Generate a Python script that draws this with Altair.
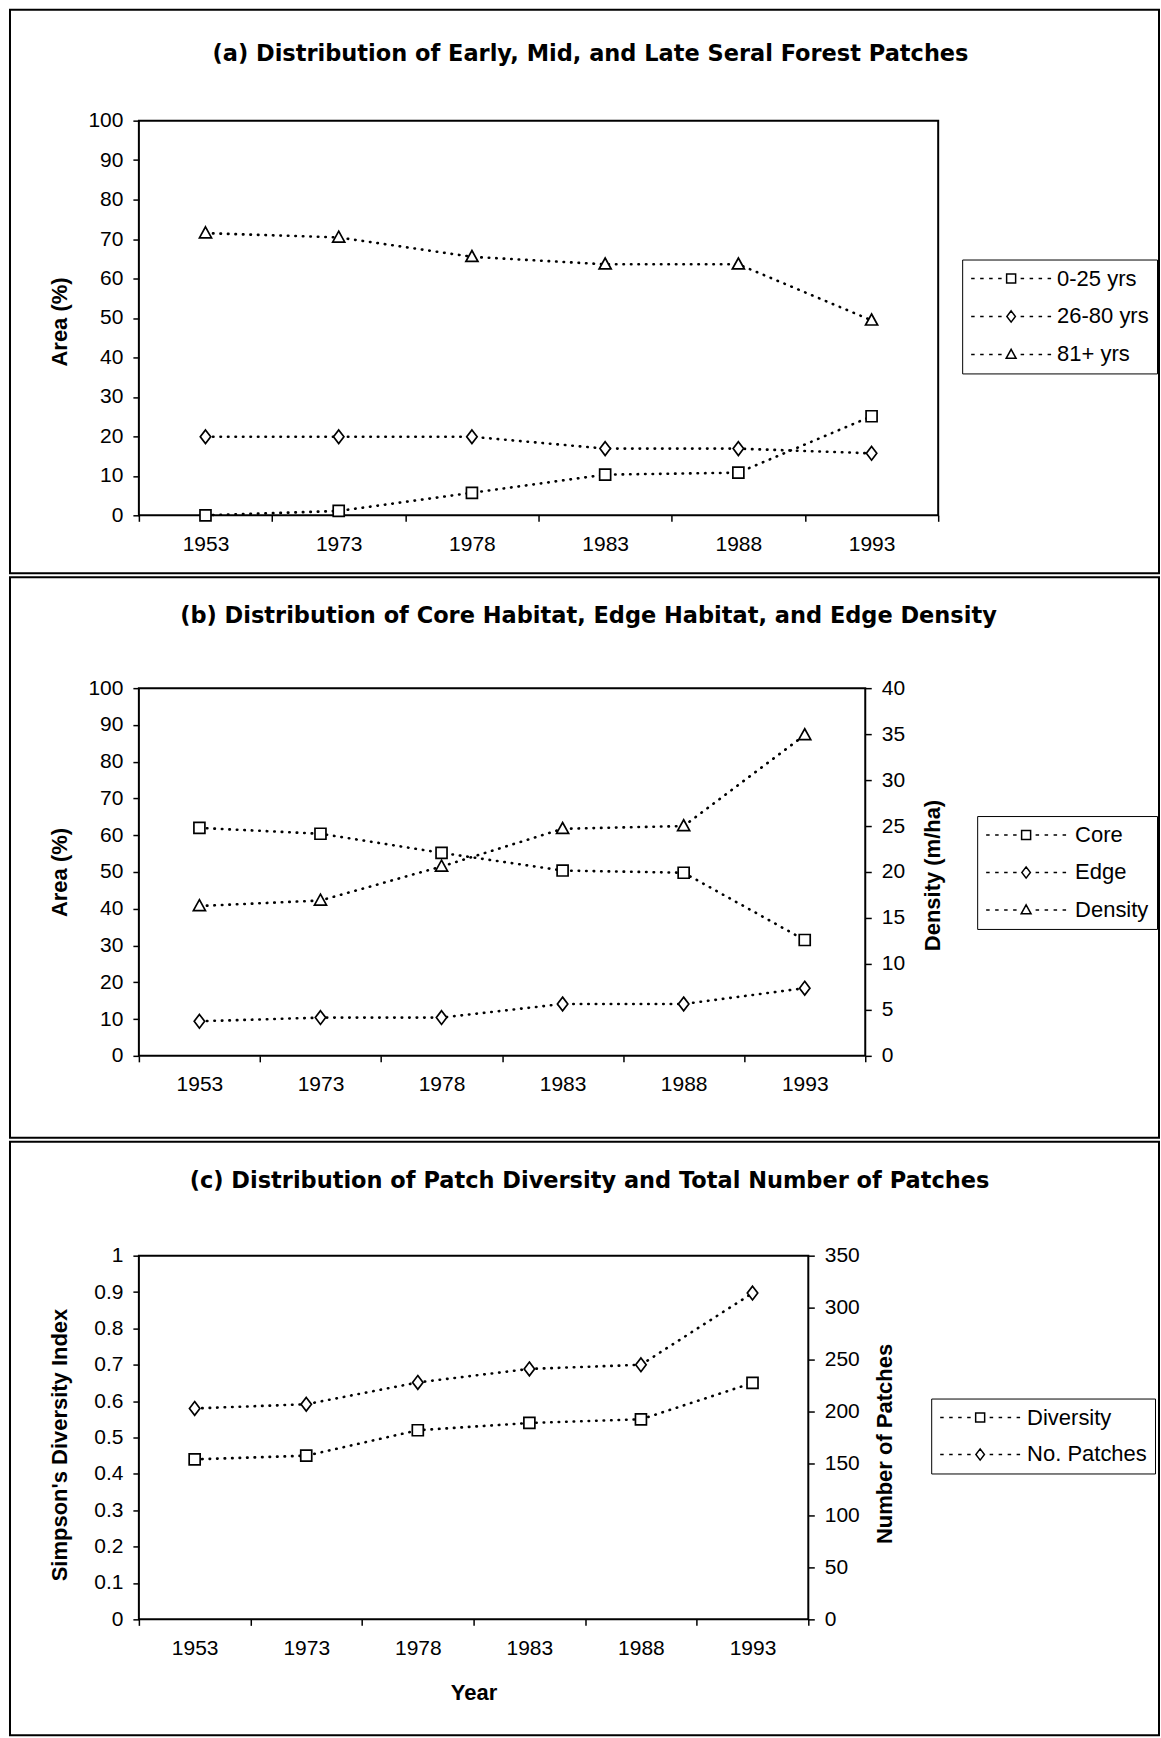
import altair as alt
import pandas as pd

# ---------------- data ----------------
years = ["1953", "1973", "1978", "1983", "1988", "1993"]

a_labels = ["0-25 yrs", "26-80 yrs", "81+  yrs"]
a_early = [0.0, 1.1, 5.7, 10.3, 10.8, 25.1]
a_mid = [19.9, 19.9, 19.9, 16.9, 16.9, 15.7]
a_late = [71.5, 70.4, 65.5, 63.6, 63.6, 49.4]

b_labels = ["Core", "Edge", "Density"]
b_core = [62.0, 60.4, 55.2, 50.4, 49.8, 31.5]
b_edge = [9.4, 10.4, 10.4, 14.1, 14.1, 18.4]
b_density = [16.3, 16.9, 20.6, 24.7, 25.0, 34.9]

c_labels = ["Diversity", "No. Patches"]
c_diversity = [0.44, 0.45, 0.52, 0.54, 0.55, 0.65]
c_patches = [203, 207, 228, 241, 245, 314]

title_a = "(a) Distribution of Early, Mid, and Late Seral Forest Patches"
title_b = "(b) Distribution of Core Habitat, Edge Habitat, and Edge Density"
title_c = "(c) Distribution of Patch Diversity and Total Number of Patches"

# ---------------- styles ----------------
FONT = "Liberation Sans"
TITLE_FONT = "DejaVu Sans"
SQ = "M-1,-1L1,-1L1,1L-1,1Z"
DI = "M0,-1.25L0.95,0L0,1.25L-0.95,0Z"
TR = "M0,-1.15L1.1,0.85L-1.1,0.85Z"


def legend_path(marker, r=4.5):
    segs = [(s, s + 3.5) for s in (-40, -31, -22, -13)] + \
           [(s, s + 3.5) for s in (9.5, 18.5, 27.5, 36.5)]
    p = "".join(f"M{a / r:.3f},0L{b / r:.3f},0" for a, b in segs)
    return p + marker


def long_df(labels, series):
    rows = []
    for lab, vals in zip(labels, series):
        for yr, v in zip(years, vals):
            rows.append({"year": yr, "series": lab, "value": v})
    return pd.DataFrame(rows)


def x_enc(title=None):
    ax = dict(tickBand="extent", labelAngle=0, labelPadding=12, tickSize=6)
    if title:
        ax.update(titleY=73, titleBaseline="middle")
    return alt.X("year:N", sort=years, title=title,
                 scale=alt.Scale(type="band", paddingInner=0, paddingOuter=0),
                 axis=alt.Axis(**ax))


def y_enc(domain, values, title, orient, tx, ty, fmt=None):
    ax = dict(values=values, orient=orient, labelPadding=10, tickSize=6,
              titleX=tx, titleY=ty, titleBaseline="middle", titleAngle=270)
    if fmt:
        ax["format"] = fmt
    return alt.Y("value:Q", title=title,
                 scale=alt.Scale(domain=domain, nice=False, zero=True),
                 axis=alt.Axis(**ax))


def series_layers(df, y, labels, shapes, xtitle=None):
    base = alt.Chart(df)
    x = x_enc(xtitle)
    lines = base.mark_line(color="black", strokeWidth=2.6, strokeDash=[0.5, 7],
                           strokeCap="round").encode(x=x, y=y, detail="series:N")
    pts = base.mark_point(filled=True, fill="white", stroke="black", strokeWidth=1.7,
                          size=121, opacity=1).encode(
        x=x, y=y,
        shape=alt.Shape("series:N", scale=alt.Scale(domain=labels, range=shapes), legend=None))
    return alt.layer(lines, pts)


def legend_layer(labels, markers, lx, ly, label_offset, row_pad):
    paths = [legend_path(m) for m in markers]
    return alt.Chart(pd.DataFrame({"series": labels})).transform_filter("false").mark_point(
        filled=False, color="black", strokeWidth=1.5, size=81, opacity=1).encode(
        shape=alt.Shape("series:N", scale=alt.Scale(domain=labels, range=paths),
                        legend=alt.Legend(title=None, orient="none", legendX=lx, legendY=ly,
                                          labelOffset=label_offset, symbolOffset=30,
                                          rowPadding=row_pad, padding=8,
                                          strokeColor="black", fillColor="white",
                                          symbolStrokeColor="black", symbolStrokeWidth=1.5,
                                          symbolSize=81, labelFont=FONT, labelFontSize=22,
                                          labelColor="black")))


def frame_layer(x0, x1, y0, y1):
    return alt.Chart(pd.DataFrame({"d": [0]})).mark_rect(
        filled=False, stroke="black", strokeWidth=2, fillOpacity=0).encode(
        x=alt.value(x0), x2=alt.value(x1), y=alt.value(y0), y2=alt.value(y1))


def title_layer(text, tx, ty):
    return alt.Chart(pd.DataFrame({"d": [0]})).mark_text(
        text=text, font=TITLE_FONT, fontSize=22.5, fontWeight="bold", color="black",
        align="center", baseline="middle").encode(x=alt.value(tx), y=alt.value(ty))


# ---------------- panel (a) ----------------
df_a = long_df(a_labels, [a_early, a_mid, a_late])
ya = y_enc([0, 100], list(range(0, 101, 10)), "Area (%)", "left", -79, 201)
panel_a = alt.layer(
    frame_layer(-129, 1021, -111, 453),
    series_layers(df_a, ya, a_labels, [SQ, DI, TR]),
    legend_layer(a_labels, [SQ, DI, TR], 824, 139, 35, 16),
    title_layer(title_a, 452, -67),
).resolve_scale(shape="independent").properties(width=800, height=395)

# ---------------- panel (b) ----------------
df_bl = long_df(b_labels[:2], [b_core, b_edge])
df_br = long_df(b_labels[2:], [b_density])
yb_l = y_enc([0, 100], list(range(0, 101, 10)), "Area (%)", "left", -79, 184)
yb_r = y_enc([0, 40], list(range(0, 41, 5)), "Density (m/ha)", "right", 67, 187)
panel_b = alt.layer(
    frame_layer(-129, 1021, -111, 450),
    series_layers(df_bl, yb_l, b_labels[:2], [SQ, DI]),
    series_layers(df_br, yb_r, b_labels[2:], [TR]),
    legend_layer(b_labels, [SQ, DI, TR], 839, 128, 38, 15.5),
    title_layer(title_b, 450, -72),
).resolve_scale(y="independent", shape="independent").properties(width=727, height=368)

# ---------------- panel (c) ----------------
df_cl = long_df(c_labels[:1], [c_diversity])
df_cr = long_df(c_labels[1:], [c_patches])
yc_l = y_enc([0, 1], [i / 10 for i in range(11)], "Simpson's Diversity Index", "left", -79, 189, ".1~f")
yc_r = y_enc([0, 350], list(range(0, 351, 50)), "Number of Patches", "right", 76, 188)
panel_c = alt.layer(
    frame_layer(-129, 1021, -114, 480),
    series_layers(df_cl, yc_l, c_labels[:1], [SQ], "Year"),
    series_layers(df_cr, yc_r, c_labels[1:], [DI], "Year"),
    legend_layer(c_labels, [SQ, DI], 793, 143, 36, 15),
    title_layer(title_c, 451, -75),
).resolve_scale(y="independent", shape="independent").properties(width=670, height=364)

chart = alt.vconcat(panel_a, panel_b, panel_c, spacing=0).properties(
    padding={"left": 8, "top": 7, "right": 0, "bottom": 0},
    background="white",
).configure_view(stroke="black", strokeWidth=2).configure_axis(
    labelFont=FONT, labelFontSize=21, labelColor="black",
    titleFont=FONT, titleFontSize=22, titleFontWeight="bold", titleColor="black",
    tickColor="black", tickWidth=1.5, grid=False, domain=False,
)

chart.save("out.html", embed_options={"renderer": "svg", "actions": False})
